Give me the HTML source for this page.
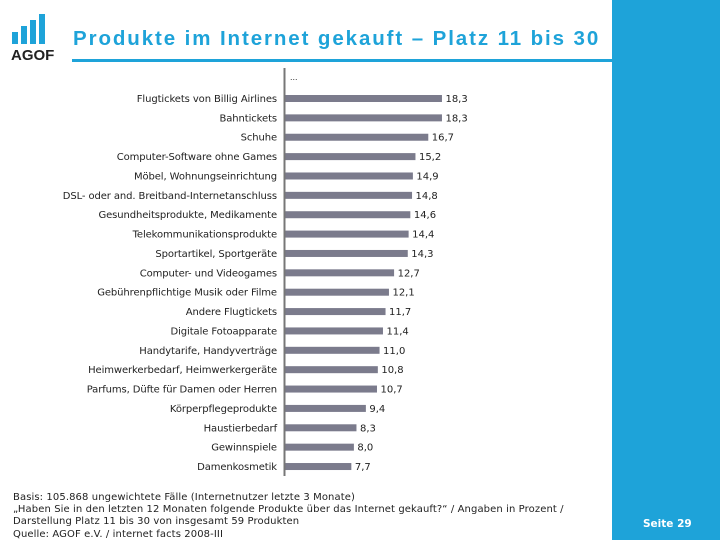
<!DOCTYPE html>
<html><head><meta charset="utf-8"><style>
body{margin:0;width:720px;height:540px;overflow:hidden;background:#fff;font-family:"Liberation Sans",sans-serif;position:relative}
#side{position:absolute;left:612px;top:0;width:108px;height:540px;background:#1ea3d9}
#title{position:absolute;left:73px;top:27px;font-size:20.5px;font-weight:bold;color:#1ea3d9;letter-spacing:1.9px;white-space:nowrap}
#rule{position:absolute;left:72px;top:59px;width:540px;height:3px;background:#1ea3d9}
#foot{position:absolute;left:13px;top:492px;font-size:10px;line-height:12.2px;color:#222;font-family:"DejaVu Sans",sans-serif;letter-spacing:0.1px;white-space:nowrap}
#page{position:absolute;left:643px;top:518px;color:#fff;font-size:10.5px;font-weight:bold;font-family:"DejaVu Sans",sans-serif}
</style></head><body>
<div id="side"></div>
<svg style="position:absolute;left:10px;top:12px" width="50" height="50">
<rect x="2" y="20" width="6" height="12" fill="#1ea3d9"/><rect x="11" y="14" width="6" height="18" fill="#1ea3d9"/><rect x="20" y="8" width="6" height="24" fill="#1ea3d9"/><rect x="29" y="2" width="6" height="30" fill="#1ea3d9"/>
<text x="1" y="48" font-size="15" font-weight="bold" fill="#222" font-family="Liberation Sans">AGOF</text></svg>
<div id="title">Produkte im Internet gekauft – Platz 11 bis 30</div>
<div id="rule"></div>
<svg id="chart" style="position:absolute;left:0;top:0" width="612" height="490"></svg>
<div id="foot">Basis: 105.868 ungewichtete Fälle (Internetnutzer letzte 3 Monate)<br>„Haben Sie in den letzten 12 Monaten folgende Produkte über das Internet gekauft?“ / Angaben in Prozent /<br>Darstellung Platz 11 bis 30 von insgesamt 59 Produkten<br>Quelle: AGOF e.V. / internet facts 2008-III</div>
<div id="page">Seite 29</div>
<script>
const categories=["Flugtickets von Billig Airlines","Bahntickets","Schuhe","Computer-Software ohne Games","Möbel, Wohnungseinrichtung","DSL- oder and. Breitband-Internetanschluss","Gesundheitsprodukte, Medikamente","Telekommunikationsprodukte","Sportartikel, Sportgeräte","Computer- und Videogames","Gebührenpflichtige Musik oder Filme","Andere Flugtickets","Digitale Fotoapparate","Handytarife, Handyverträge","Heimwerkerbedarf, Heimwerkergeräte","Parfums, Düfte für Damen oder Herren","Körperpflegeprodukte","Haustierbedarf","Gewinnspiele","Damenkosmetik"];
const values=[18.3,18.3,16.7,15.2,14.9,14.8,14.6,14.4,14.3,12.7,12.1,11.7,11.4,11.0,10.8,10.7,9.4,8.3,8.0,7.7];
const labels=values.map(v=>v.toFixed(1).replace('.',','));
const svg=document.getElementById('chart');const NS='http://www.w3.org/2000/svg';
const x0=285,k=8.55,y0=98.5,step=19.37;
const xs=v=>x0+v*k, ys=i=>y0+i*step;
function mk(t,a){const e=document.createElementNS(NS,t);for(const n in a)e.setAttribute(n,a[n]);svg.appendChild(e);return e;}
const ax=mk('rect',{x:283.5,y:68,width:2,height:408,fill:'#777'});


const dots=mk('text',{x:290,y:80,'font-size':9,fill:'#333'});dots.textContent='...';


values.forEach((v,i)=>{
 const b=mk('rect',{x:x0+0.5,y:ys(i)-3.5,width:xs(v)-x0,height:7,fill:'#7b7b8c'});
 
 
 const l=mk('text',{x:277,y:ys(i)+3.5,'font-size':10,'text-anchor':'end',fill:'#222','font-family':'DejaVu Sans, sans-serif','letter-spacing':'-0.1'});l.textContent=categories[i];
 
 
 const t=mk('text',{x:xs(v)+4,y:ys(i)+3.5,'font-size':10,fill:'#222','font-family':'DejaVu Sans, sans-serif'});t.textContent=labels[i];
 
 
});
</script>
</body></html>
